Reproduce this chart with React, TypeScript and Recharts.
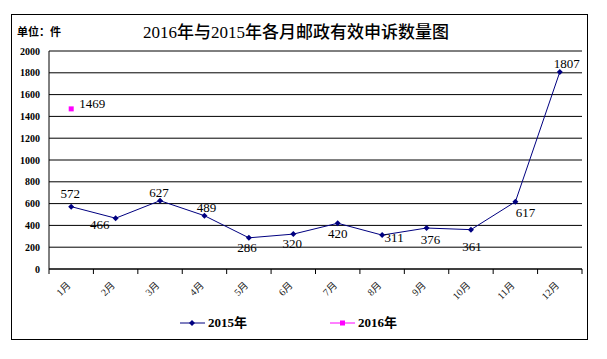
import React from "react";
import { LineChart, Line, XAxis, YAxis, CartesianGrid } from "recharts";

const months = ["1月", "2月", "3月", "4月", "5月", "6月", "7月", "8月", "9月", "10月", "11月", "12月"];
const y2015 = [572, 466, 627, 489, 286, 320, 420, 311, 376, 361, 617, 1807];
const y2016: (number | null)[] = [1469, null, null, null, null, null, null, null, null, null, null, null];
const yTicks = [0, 200, 400, 600, 800, 1000, 1200, 1400, 1600, 1800, 2000];
const xTicks = [0, 1, 2, 3, 4, 5, 6, 7, 8, 9, 10, 11, 12];

// data label offsets (dx, dy) from each point
const dx2015 = [-1, -16, -1, 2, -2, -1, 0, 12, 4, 1, 10, 7];
const dy2015 = [-13, 6, -8, -8, 10, 9, 10, 2, 11, 17, 11, -9];
const dx2016 = [21];
const dy2016 = [-5];

const FONT = "'Liberation Serif', 'Noto Sans CJK SC', serif";
const BAND = 533 / 12;

const data = months.map((m, i) => ({ x: i + 0.5, month: m, a: y2015[i], b: y2016[i] }));

function MonthTick(props: any) {
  const { x, y, payload } = props;
  const i = payload.value;
  if (i >= 12) return null;
  const ax = x + BAND / 2;
  const ay = y + 12;
  return (
    <text x={ax} y={ay} textAnchor="end" fontSize={10} fontFamily={FONT} fill="#222"
      transform={`rotate(-45 ${ax} ${ay})`}>
      {months[i]}
    </text>
  );
}

function Diamond(props: any) {
  const { cx, cy, index } = props;
  if (cx == null || cy == null) return <g key={index} />;
  return <path key={index} d={`M${cx} ${cy - 3}L${cx + 3} ${cy}L${cx} ${cy + 3}L${cx - 3} ${cy}Z`} fill="#000080" />;
}

function Square(props: any) {
  const { cx, cy, index, value } = props;
  if (cx == null || cy == null || value == null) return <g key={index} />;
  return <rect key={index} x={cx - 2.5} y={cy - 2.5} width={5} height={5} fill="#FF00FF" />;
}

function makeLabel(dxs: number[], dys: number[]) {
  return (props: any) => {
    const { x, y, value, index } = props;
    if (value == null) return null;
    return (
      <text key={index} x={x + (dxs[index] ?? 0)} y={y + (dys[index] ?? 0)} textAnchor="middle"
        dominantBaseline="central" fontSize={13} fontFamily={FONT} fill="#000">
        {value}
      </text>
    );
  };
}

export default function App() {
  return (
    <div style={{ position: "absolute", left: 0, top: 0, width: 607, height: 359, background: "#fff", fontFamily: FONT }}>
      <div style={{ position: "absolute", left: 11, top: 14, width: 577, height: 326, border: "1px solid #000", boxSizing: "border-box" }} />
      <div style={{ position: "absolute", left: 17, top: 24, fontSize: 11, fontWeight: "bold", lineHeight: "16px" }}>单位：件</div>
      <div style={{ position: "absolute", left: 96, width: 400, top: 23, textAlign: "center", fontSize: 17, fontWeight: 500, lineHeight: "20px" }}>
        2016年与2015年各月邮政有效申诉数量图
      </div>

      <LineChart width={607} height={359} data={data} margin={{ top: 51, right: 25, bottom: 60, left: 0 }}>
        <CartesianGrid vertical={false} stroke="#000" />
        <XAxis dataKey="x" type="number" domain={[0, 12]} ticks={xTicks} interval={0} height={30}
          axisLine={{ stroke: "#000" }} tickLine={{ stroke: "#000" }} tickSize={5} tickMargin={0}
          tick={<MonthTick />} />
        <YAxis domain={[0, 2000]} ticks={yTicks} interval={0} width={49} axisLine={{ stroke: "#000" }}
          tickLine={false} tickSize={0} tickMargin={9}
          tick={{ fontSize: 10, fontWeight: "bold", fill: "#000", fontFamily: FONT }} />
        <Line dataKey="a" name="2015年" stroke="#000080" strokeWidth={1} dot={<Diamond />}
          label={makeLabel(dx2015, dy2015)} isAnimationActive={false} />
        <Line dataKey="b" name="2016年" stroke="#FF00FF" strokeWidth={1} dot={<Square />}
          label={makeLabel(dx2016, dy2016)} isAnimationActive={false} />
      </LineChart>

      <div style={{ position: "absolute", left: 180, top: 315, display: "flex", alignItems: "center", fontSize: 13, fontWeight: "bold", lineHeight: "16px" }}>
        <svg width={26} height={8}><line x1={0} y1={4} x2={25} y2={4} stroke="#000080" /><path d="M12 1L15 4L12 7L9 4Z" fill="#000080" /></svg>
        <span style={{ marginLeft: 2 }}>2015年</span>
      </div>
      <div style={{ position: "absolute", left: 330, top: 315, display: "flex", alignItems: "center", fontSize: 13, fontWeight: "bold", lineHeight: "16px" }}>
        <svg width={26} height={8}><line x1={0} y1={4} x2={25} y2={4} stroke="#FF00FF" /><rect x={10} y={1.5} width={5} height={5} fill="#FF00FF" /></svg>
        <span style={{ marginLeft: 2 }}>2016年</span>
      </div>
    </div>
  );
}
